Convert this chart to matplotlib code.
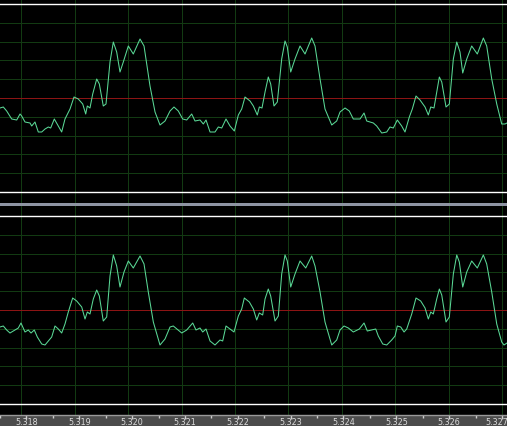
import matplotlib
matplotlib.use("Agg")
import matplotlib.pyplot as plt
import matplotlib.transforms as mtransforms

# ---------------- data ----------------
t0 = 5.3176  # seconds, left edge of the view
t_end = 5.3176 + 0.009494
tick_times = [5.318, 5.319, 5.320, 5.321, 5.322, 5.323, 5.324, 5.325, 5.326, 5.327]
tick_labels = ["5.318", "5.319", "5.320", "5.321", "5.322", "5.323", "5.324", "5.325", "5.326", "5.327"]
minor_times = [5.3175, 5.3185, 5.3195, 5.3205, 5.3215, 5.3225, 5.3235, 5.3245, 5.3255, 5.3265]

# top channel: time offsets (microseconds from t0) and amplitude (arb. units, full scale +-94)
top_us = [0, 62, 125, 219, 313, 375, 406, 468, 562, 594, 655, 717, 781, 843, 905, 949,
          1017, 1092, 1155, 1217, 1311, 1386, 1466, 1549, 1605, 1635, 1685, 1736, 1811,
          1860, 1934, 1985, 2060, 2122, 2185, 2247, 2309, 2403, 2496, 2622, 2697, 2809,
          2903, 2996, 3090, 3184, 3258, 3339, 3421, 3496, 3590, 3652, 3745,
          3807, 3858, 3933, 4026, 4088, 4152, 4232, 4307, 4388, 4463, 4526, 4588, 4682,
          4744, 4818, 4856, 4906, 4963, 5024, 5069, 5131, 5193, 5275, 5337, 5380, 5444,
          5524, 5618, 5712, 5837, 5899, 5993, 6086, 6212, 6305, 6367, 6461, 6541, 6616,
          6742, 6817, 6867, 6991, 7054, 7148, 7242, 7303, 7365, 7440, 7522, 7584, 7665,
          7721, 7790, 7865, 7959, 8021, 8066, 8127, 8178, 8227, 8272, 8352, 8414, 8489,
          8553, 8614, 8665, 8740, 8833, 8938, 9051, 9114, 9208, 9302, 9395, 9457, 9494]
top_val = [-10, -9, -13, -21, -22, -16, -18, -24, -25, -28, -24, -34, -34, -31, -29, -30,
           -21, -28, -34, -21, -11, 1, -1, -6, -16, -8, -10, 4, 19,
           14, -8, -6, 36, 56, 46, 26, 36, 52, 44, 59, 52, 12,
           -14, -27, -23, -13, -9, -13, -21, -22, -16, -23, -22,
           -26, -22, -34, -34, -29, -30, -21, -28, -33, -17, -11, 1, -3,
           -8, -17, -9, -10, 6, 21, 14, -8, -4, 39, 57, 51, 26,
           39, 52, 44, 60, 52, 19, -11, -27, -23, -14, -10, -13, -21,
           -21, -15, -23, -25, -28, -35, -34, -29, -30, -22, -28, -34, -19,
           -11, 2, -2, -9, -17, -9, -10, 6, 21, 16, -9, -6, 39,
           56, 46, 25, 39, 52, 44, 60, 52, 19, -6, -26, -26, -25]

# bottom channel
bot_us = [0, 62, 125, 187, 281, 343, 393, 468, 530, 581, 642, 699, 781, 843, 905, 968,
          1030, 1092, 1155, 1217, 1279, 1361, 1436, 1530, 1592, 1635, 1685, 1747, 1811,
          1860, 1934, 1998, 2060, 2122, 2185, 2247, 2322, 2403, 2496, 2622, 2697, 2777,
          2871, 2996, 3090, 3184, 3245, 3403, 3496, 3609, 3670, 3745,
          3796, 3858, 3933, 4026, 4120, 4170, 4232, 4307, 4382, 4463, 4526, 4575, 4669,
          4744, 4807, 4856, 4919, 4963, 5024, 5069, 5150, 5212, 5275, 5337, 5380, 5444,
          5524, 5618, 5725, 5837, 5899, 5993, 6086, 6212, 6305, 6367, 6442, 6523, 6616,
          6729, 6817, 6878, 6961, 7036, 7084, 7167, 7242, 7335, 7397, 7440, 7504, 7566,
          7616, 7710, 7790, 7878, 7959, 8021, 8066, 8114, 8178, 8227, 8272, 8352, 8414,
          8489, 8553, 8601, 8665, 8740, 8833, 8938, 9051, 9114, 9208, 9302, 9395, 9438, 9494]
bot_val = [-17, -16, -20, -23, -20, -18, -13, -22, -20, -23, -20, -27, -34, -35, -31, -27,
           -16, -19, -23, -14, -2, 12, 9, 3, -9, -2, -4, 11, 20,
           14, -11, -7, 34, 55, 44, 23, 38, 49, 42, 54, 46, 18,
           -12, -35, -29, -17, -16, -23, -20, -13, -20, -18,
           -22, -19, -31, -35, -30, -31, -16, -19, -22, -6, 1, 12, 8,
           1, -10, -3, -5, 11, 21, 14, -11, -6, 36, 55, 49, 23,
           36, 49, 42, 54, 44, 18, -12, -35, -30, -20, -16, -18, -22,
           -19, -13, -21, -20, -19, -26, -34, -35, -30, -26, -16, -17, -22,
           -19, -4, 12, 9, 2, -9, -2, -4, 11, 21, 15, -12, -7,
           36, 55, 48, 23, 38, 49, 42, 55, 46, 18, -14, -32, -35, -33]

grid_levels = [-75.2, -56.4, -37.6, -18.8, 18.8, 37.6, 56.4, 75.2]
full_scale = 94

# ---------------- style ----------------
BG = "#000000"
GRID = "#123a12"
RED = "#8c1414"
TRACE = "#5ad896"
W, H = 507, 427
PX = 0.72  # one pixel in points

fig = plt.figure(figsize=(W / 100, H / 100), dpi=100, facecolor=BG)

def fy(px):
    return 1 - px / H

# background axes with vertical grid lines spanning the whole view
bg = fig.add_axes([0, fy(416), 1, fy(0) - fy(416)], zorder=0)
bg.set_facecolor(BG)
bg.set_xlim(t0, t_end)
bg.set_ylim(0, 1)
for tt in tick_times:
    bg.axvline(tt, color=GRID, lw=PX, antialiased=False)
bg.axis("off")
bg.add_patch(plt.Rectangle((0, 0), 1, 1, transform=bg.transAxes, color=BG, zorder=-1))

# separator bar between panels
sep = fig.add_axes([0, fy(206.5), 1, 3.0 / H], zorder=3)
sep.set_facecolor("#8e94a3")
sep.set_xticks([]); sep.set_yticks([])
for s in sep.spines.values():
    s.set_visible(False)

def panel(y_top_px, ts, vs):
    ax = fig.add_axes([0, fy(y_top_px + 188), 1, 188 / H], zorder=2)
    ax.set_facecolor("none")
    ax.set_xlim(t0, t_end)
    ax.set_ylim(-full_scale, full_scale)
    for g in grid_levels:
        ax.axhline(g, color=GRID, lw=PX, zorder=1, antialiased=False)
    ax.axhline(0, color=RED, lw=PX, zorder=2, antialiased=False)
    ax.plot([t0 + u * 1e-6 for u in ts], vs, color=TRACE, lw=0.75, zorder=3)
    ax.set_xticks([]); ax.set_yticks([])
    for k in ("left", "right"):
        ax.spines[k].set_visible(False)
    for k in ("top", "bottom"):
        ax.spines[k].set_color("#ffffff")
        ax.spines[k].set_linewidth(1.0)
    return ax

panel(5, top_us, top_val)
panel(217, bot_us, bot_val)

# time axis band
band = fig.add_axes([0, 0, 1, fy(416)], zorder=4)
band.set_facecolor("#4c4c4c")
band.set_xlim(t0, t_end)
band.set_ylim(0, 1)
band.set_yticks([])
band.xaxis.set_ticks_position("top")
band.set_xticks(tick_times)
band.set_xticks(minor_times, minor=True)
band.tick_params(axis="x", which="major", direction="in", length=3, width=1,
                 color="#d0d0d0", labeltop=False, labelbottom=False)
band.tick_params(axis="x", which="minor", direction="in", length=2, width=1,
                 color="#d0d0d0")
for k in ("left", "right", "bottom"):
    band.spines[k].set_visible(False)
band.spines["top"].set_color("#9a9a9a")
band.spines["top"].set_linewidth(1.0)
trans = mtransforms.blended_transform_factory(band.transData, band.transAxes)
for tt, lab in zip(tick_times, tick_labels):
    ha = "right" if tt == tick_times[-1] else "center"
    x = tt + 0.00012 if tt == tick_times[-1] else tt
    band.text(x, 0.04, lab, transform=trans, ha=ha, va="bottom",
              fontsize=5.8, color="#dcdcdc", family="DejaVu Sans", clip_on=False)

fig.savefig("out.png", dpi=100, facecolor=BG)
